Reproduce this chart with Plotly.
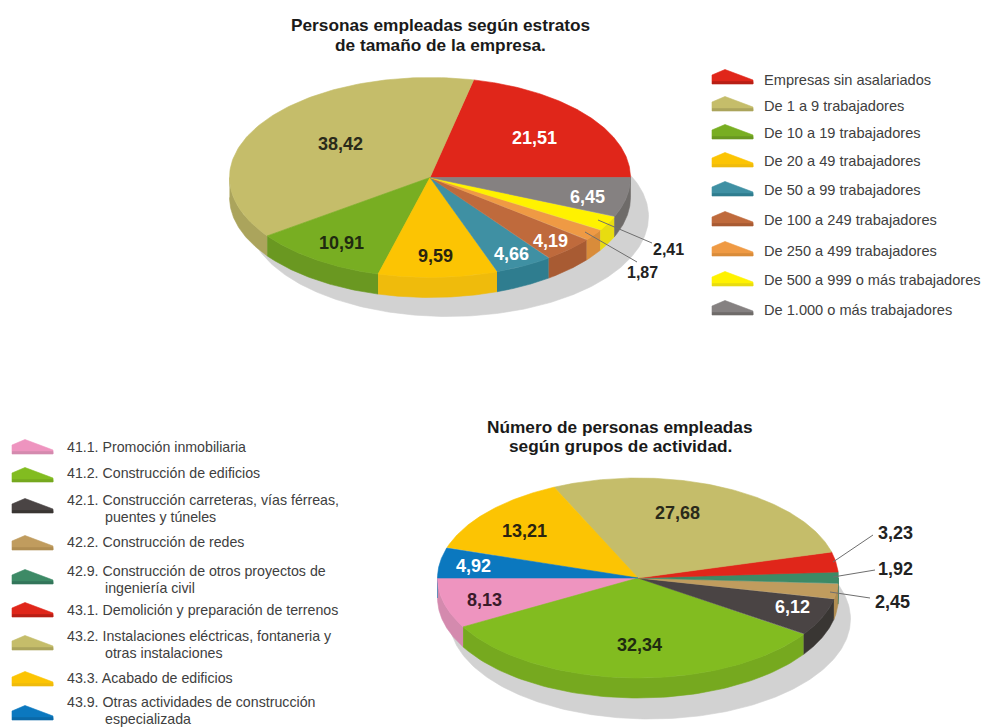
import numpy as np
import plotly.graph_objects as go

# ---------- data ----------
size_labels = ["Empresas sin asalariados", "De 1 a 9 trabajadores", "De 10 a 19 trabajadores",
               "De 20 a 49 trabajadores", "De 50 a 99 trabajadores", "De 100 a 249 trabajadores",
               "De 250 a 499 trabajadores", "De 500 a 999 o más trabajadores", "De 1.000 o más trabajadores"]
size_values = [21.51, 38.42, 10.91, 9.59, 4.66, 4.19, 1.87, 2.41, 6.45]

act_labels = [["41.1. Promoción inmobiliaria"], ["41.2. Construcción de edificios"],
              ["42.1. Construcción carreteras, vías férreas,", "puentes y túneles"],
              ["42.2. Construcción de redes"],
              ["42.9. Construcción de otros proyectos de", "ingeniería civil"],
              ["43.1. Demolición y preparación de terrenos"],
              ["43.2. Instalaciones eléctricas, fontaneria y", "otras instalaciones"],
              ["43.3. Acabado de edificios"],
              ["43.9. Otras actividades de construcción", "especializada"]]
act_values = [8.13, 32.34, 6.12, 2.45, 1.92, 3.23, 27.68, 13.21, 4.92]

title_size = ["Personas empleadas según estratos", "de tamaño de la empresa."]
title_act = ["Número de personas empleadas", "según grupos de actividad."]

# ---------- style ----------
size_top = ["#e0261a", "#c5bd6a", "#78ae22", "#fcc403", "#3f90a3", "#bf6a3c", "#ef9a44", "#fff200", "#858181"]
size_side = ["#b81f15", "#aba45c", "#6a9821", "#efbb0c", "#2f7d8f", "#a85b33", "#d98c3a", "#e8dc10", "#6e6b69"]
act_top = ["#ee94bf", "#82bc20", "#4a4444", "#c09c5e", "#3d8a66", "#e0261a", "#c5bd6a", "#fcc403", "#0b78bf"]
act_side = ["#d48aae", "#76a91f", "#393633", "#b08d52", "#33755a", "#b81f15", "#aba45c", "#efbb0c", "#0a69a8"]

RX, RY, DEPTH = 200.5, 100, 20
SHADOW = "#d2d2d2"
TEXT = "#404040"
FONT = "Liberation Sans"

size_geom = dict(cx=430, cy=177.5, start=0, sx=18, sy=39)
act_geom = dict(cx=638, cy=578, start=180, sx=12, sy=41)

size_val_pos = [(534, 138, "white", 18), (340, 144, "#2a2a1a", 18), (341, 243, "#1f2a10", 18), (435, 256, "#2a2410", 18),
                (511, 254, "white", 18), (550, 241, "white", 18), (642, 272, "#222", 16), (668, 249, "#222", 16),
                (587, 197, "white", 18)]
act_val_pos = [(484, 600, "#3a1a2a", 18), (639, 645, "#1f2a10", 18), (792, 607, "white", 18), (892, 602, "#222", 18),
               (895, 569, "#222", 18), (895, 533, "#222", 18), (677, 513, "#2a2a1a", 18), (524, 531, "#2a2410", 18),
               (473, 566, "white", 18)]
leaders = [((598, 220), (652, 243)), ((585, 232), (637, 262)),
           ((833, 562), (873, 535)), ((833, 577), (875, 570)), ((830, 592), (870, 598))]

size_legend_y = [80, 106, 133, 161, 190, 220, 251, 280, 310]
size_swatch_y = [84, 111, 139, 167, 196, 226, 256, 286, 315]
act_legend_y = [447, 473, 500, 542, 571, 610, 636, 678, 702]
act_swatch_y = [454, 482, 513, 550, 584, 617, 650, 686, 720]
SWATCH = [(0, 0), (0, -9), (13, -14.5), (41, -4), (41, 0)]
ACT_FONT = 14.2
ACT_LINE = 16.5

fig = go.Figure()


def poly(xs, ys, color):
    fig.add_trace(go.Scatter(x=xs, y=ys, mode="lines", fill="toself", fillcolor=color,
                             line=dict(color=color, width=0.6), hoverinfo="skip", showlegend=False))


def pie(values, top, side, g):
    t = np.linspace(0, 2 * np.pi, 361)
    poly(g["cx"] + g["sx"] + RX * np.cos(t), g["cy"] + g["sy"] + RY * np.sin(t), SHADOW)
    total = sum(values)
    a0 = np.radians(g["start"])
    spans = []
    for v in values:
        a1 = a0 + 2 * np.pi * v / total
        spans.append((a0, a1))
        a0 = a1
    # side walls: only the part of the rim facing the viewer
    for (a, b), c in zip(spans, side):
        for k in (1, 3):
            lo, hi = max(a, k * np.pi), min(b, (k + 1) * np.pi)
            if hi > lo:
                s = np.linspace(lo, hi, 80)
                x = g["cx"] + RX * np.cos(s)
                y = g["cy"] - RY * np.sin(s)
                poly(np.r_[x, x[::-1]], np.r_[y, y[::-1] + DEPTH], c)
    for (a, b), c in zip(spans, top):
        s = np.linspace(a, b, 120)
        poly(np.r_[g["cx"], g["cx"] + RX * np.cos(s), g["cx"]],
             np.r_[g["cy"], g["cy"] - RY * np.sin(s), g["cy"]], c)


pie(size_values, size_top, size_side, size_geom)
pie(act_values, act_top, act_side, act_geom)


def swatch(x0, y0, top, side):
    xs = [x0 + p[0] for p in SWATCH]
    ys = [y0 + p[1] for p in SWATCH]
    poly(xs, ys, top)
    poly([x0, x0 + 41, x0 + 41, x0], [y0, y0, y0 - 2.5, y0 - 2.5], side)


annotations = []


def text(x, y, s, size, color=TEXT, bold=False, anchor="left"):
    annotations.append(dict(x=x, y=y, xref="x", yref="y", text=f"<b>{s}</b>" if bold else s, showarrow=False,
                            xanchor=anchor, yanchor="middle", align=anchor, borderpad=0,
                            font=dict(family=FONT, size=size, color=color)))


for y, sy, lab, t, s in zip(size_legend_y, size_swatch_y, size_labels, size_top, size_side):
    swatch(712, sy, t, s)
    text(763, y, lab, 14.6)
for y, sy, lab, t, s in zip(act_legend_y, act_swatch_y, act_labels, act_top, act_side):
    swatch(12, sy, t, s)
    text(66, y, lab[0], ACT_FONT)
    if len(lab) > 1:
        text(104, y + ACT_LINE, lab[1], ACT_FONT)

for i, s in enumerate(title_size):
    text(440, 25 + 19.5 * i, s, 17.25, color="#1a1a1a", bold=True, anchor="center")
for i, s in enumerate(title_act):
    text(620, 427 + 19 * i, s, 17.25, color="#1a1a1a", bold=True, anchor="center")

for v, p in zip(size_values + act_values, size_val_pos + act_val_pos):
    text(p[0], p[1], f"{v:.2f}".replace(".", ","), p[3], color=p[2], bold=True, anchor="center")

shapes = [dict(type="line", xref="x", yref="y", x0=a[0], y0=a[1], x1=b[0], y1=b[1],
               line=dict(color="#6e6e6e", width=1)) for a, b in leaders]

fig.update_layout(width=984, height=727, margin=dict(l=0, r=0, t=0, b=0), autosize=False,
                  paper_bgcolor="white", plot_bgcolor="white", showlegend=False,
                  annotations=annotations, shapes=shapes,
                  xaxis=dict(range=[0, 984], visible=False, fixedrange=True),
                  yaxis=dict(range=[727, 0], visible=False, fixedrange=True))
fig.write_html("out.html", post_script="document.body.style.margin='0';document.body.style.overflow='hidden';",
               config=dict(displayModeBar=False))
